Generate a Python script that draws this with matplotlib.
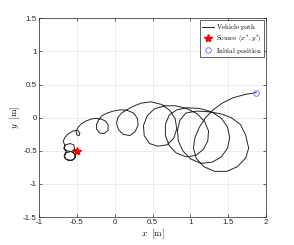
import matplotlib
matplotlib.use('Agg')
import matplotlib.pyplot as plt

plt.rcParams['mathtext.fontset'] = 'cm'
plt.rcParams['font.family'] = 'Liberation Sans'

# vehicle path (x, y in m)
path_x = [1.87, 1.72, 1.56, 1.42, 1.30, 1.20, 1.12, 1.06, 1.04, 1.08, 1.18, 1.32, 1.48, 1.62, 1.73, 1.77, 1.73, 1.66, 1.54, 1.40, 1.24, 1.08,
          0.94, 0.86, 0.83, 0.84, 0.90, 1.00, 1.14, 1.29, 1.41, 1.49, 1.52, 1.49, 1.41, 1.28, 1.12, 0.96,
          0.82, 0.72, 0.67, 0.67, 0.72, 0.81, 0.94, 1.07, 1.17, 1.23, 1.24, 1.19, 1.09, 0.95, 0.80,
          0.66, 0.52, 0.43, 0.38, 0.39, 0.46, 0.57, 0.69, 0.78, 0.82, 0.80, 0.73, 0.62, 0.48, 0.35, 0.24,
          0.16, 0.09, 0.04, 0.025, 0.05, 0.11, 0.20, 0.27, 0.31, 0.30, 0.25, 0.17, 0.08, -0.02, -0.10, -0.17, -0.21,
          -0.24, -0.24, -0.20, -0.14, -0.09, -0.085, -0.12, -0.18, -0.25, -0.31, -0.38, -0.44, -0.48,
          -0.51, -0.50, -0.47, -0.46, -0.49, -0.55, -0.61, -0.66, -0.68, -0.66,
          -0.67, -0.63, -0.57, -0.53, -0.54, -0.59, -0.65, -0.67, -0.64,
          -0.66, -0.66, -0.62, -0.56, -0.52, -0.53, -0.58, -0.64, -0.67, -0.64, -0.58, -0.53, -0.52, -0.55, -0.52]
path_y = [0.38, 0.35, 0.30, 0.22, 0.12, 0.00, -0.14, -0.30, -0.46, -0.62, -0.74, -0.81, -0.81, -0.74, -0.61, -0.46, -0.26, -0.10, 0.00, 0.06, 0.09, 0.10,
          0.07, -0.04, -0.19, -0.35, -0.50, -0.62, -0.69, -0.67, -0.59, -0.46, -0.30, -0.14, -0.01, 0.09, 0.14, 0.15,
          0.12, 0.04, -0.10, -0.27, -0.42, -0.53, -0.59, -0.57, -0.48, -0.35, -0.20, -0.06, 0.06, 0.14, 0.18,
          0.18, 0.13, 0.03, -0.12, -0.27, -0.39, -0.43, -0.41, -0.31, -0.17, -0.02, 0.11, 0.20, 0.24, 0.22, 0.17,
          0.12, 0.07, 0.00, -0.09, -0.18, -0.25, -0.27, -0.21, -0.11, -0.01, 0.07, 0.11, 0.12, 0.10, 0.07, 0.03, -0.03,
          -0.10, -0.17, -0.23, -0.24, -0.19, -0.11, -0.05, -0.02, -0.01, -0.02, -0.05, -0.09, -0.14,
          -0.20, -0.26, -0.27, -0.23, -0.19, -0.20, -0.24, -0.30, -0.36, -0.41,
          -0.46, -0.50, -0.51, -0.47, -0.41, -0.39, -0.41, -0.47, -0.51,
          -0.55, -0.61, -0.64, -0.64, -0.60, -0.54, -0.51, -0.53, -0.58, -0.63, -0.65, -0.62, -0.56, -0.52, -0.48]

source = (-0.5, -0.5)
start = (1.87, 0.38)

x_ticks = [-1, -0.5, 0, 0.5, 1, 1.5, 2]
y_ticks = [-1.5, -1, -0.5, 0, 0.5, 1, 1.5]

fig = plt.figure(figsize=(2.94, 2.45), dpi=100)
ax = fig.add_axes([0.1327, 0.114, 0.7723, 0.811])

ax.plot(path_x, path_y, color='#262626', lw=0.7, label=r'$\mathrm{Vehicle\ path}$')
ax.plot(source[0], source[1], marker='*', color='red', ms=6, ls='none',
        label=r'$\mathrm{Source}\ (x^{*},y^{*})$')
ax.plot(start[0], start[1], marker='o', mfc='none', mec='#6666ff', mew=0.6, ms=4, ls='none',
        label=r'$\mathrm{Initial\ position}$')

ax.set_xlim(-1, 2)
ax.set_ylim(-1.5, 1.5)
ax.set_xticks(x_ticks)
ax.set_yticks(y_ticks)
ax.set_xticklabels([f'{t:g}' for t in x_ticks])
ax.set_yticklabels([f'{t:g}' for t in y_ticks])
ax.tick_params(direction='in', length=2, width=0.5, labelsize=5.8, colors='#262626', pad=1.5, top=True, right=True)
ax.grid(True, color='#e6e6e6', lw=0.5)
ax.set_axisbelow(True)
for s in ax.spines.values():
    s.set_linewidth(0.5)
    s.set_color('#262626')

ax.set_xlabel(r'$x\ \ [\mathrm{m}]$', fontsize=6.5, labelpad=1)
ax.set_ylabel(r'$y\ \ [\mathrm{m}]$', fontsize=6.5, labelpad=1)

leg = ax.legend(loc='upper right', fontsize=5, fancybox=False, framealpha=1, edgecolor='#262626',
                handlelength=1.8, handletextpad=0.3, borderpad=0.25, labelspacing=0.15,
                borderaxespad=0.3)
leg.get_frame().set_linewidth(0.5)

fig.savefig('out.png', dpi=100)
